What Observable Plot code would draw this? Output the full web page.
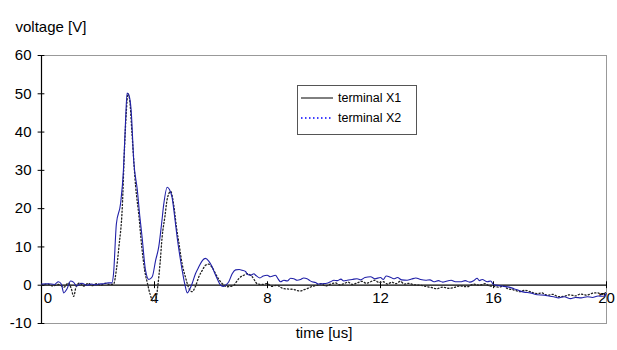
<!DOCTYPE html>
<html>
<head>
<meta charset="utf-8">
<script src="https://cdn.jsdelivr.net/npm/d3@7"></script>
<script src="https://cdn.jsdelivr.net/npm/@observablehq/plot@0.6"></script>
<style>
  html, body { margin: 0; padding: 0; background: #fff; }
  #wrap { position: relative; width: 617px; height: 350px; font-family: "Liberation Sans", Arial, sans-serif; }
  #legend { position: absolute; left: 297px; top: 85px; width: 120px; height: 50px; border: 1px solid #555; background: #fff; box-sizing: border-box; font-size: 12.5px; color: #000; }
  #legend .row { position: absolute; left: 3px; height: 14px; display: flex; align-items: center; }
  #legend svg { display: block; }
  #legend span { margin-left: 5px; }
</style>
</head>
<body>
<div id="wrap">
  <div id="chart"></div>
  <div id="legend"></div>
</div>
<script>
// ---- Data ----
const yTicks = [-10, 0, 10, 20, 30, 40, 50, 60];
const xTicks = [0, 4, 8, 12, 16, 20];
const legendLabels = ["terminal X1", "terminal X2"];

// solid blue trace
const blueTime = [0,0.25,0.45,0.6,0.7,0.79,0.9,1.03,1.13,1.25,1.35,1.43,1.6,1.78,1.9,2.02,2.2,2.37,2.49,2.55,2.65,2.8,2.9,2.97,3.03,3.1,3.17,3.27,3.39,3.48,3.56,3.68,3.8,3.92,4.04,4.15,4.25,4.33,4.45,4.53,4.62,4.72,4.8,4.9,4.98,5.08,5.16,5.25,5.33,5.45,5.57,5.7,5.8,5.92,6.04,6.13,6.22,6.34,6.45,6.55,6.63,6.75,6.87,7.0,7.1,7.22,7.3,7.4,7.52,7.58,7.73,7.85,7.99,8.1,8.28,8.38,8.46,8.58,8.7,8.82,8.93,9.05,9.17,9.28,9.4,9.5,9.58,9.7,9.8,9.94,10.1,10.23,10.35,10.47,10.6,10.7,10.82,11.0,11.17,11.3,11.45,11.65,11.8,12.0,12.1,12.2,12.35,12.47,12.6,12.75,12.94,13.1,13.25,13.42,13.6,13.75,13.89,14.05,14.2,14.36,14.5,14.65,14.83,15.0,15.15,15.3,15.42,15.5,15.6,15.78,15.9,16.01,16.2,16.37,16.55,16.72,16.9,17.08,17.3,17.55,17.8,18.0,18.13,18.3,18.5,18.73,18.9,19.1,19.32,19.5,19.7,19.9,20];
const blueVolt = [0.3,0.4,0.2,0.9,0.3,-2.0,-1.0,1.1,0.8,-0.2,0.3,0.5,0.0,0.3,0.1,0.3,0.4,0.6,0.6,3,16,21.4,30,42,50.2,49.5,46,32,25,18,12.6,4,1.5,2.2,6.5,10,16,21.3,25.6,25,23,17.5,12.6,7.5,3.9,0,-2.0,-1,0.4,3,4.8,6.5,7.0,6.3,4.8,3.2,1.7,0.0,-0.3,0.2,0.9,3.0,4.0,4.1,3.9,3.6,2.8,2.6,3.0,2.6,1.9,2.4,2.6,2.2,2.6,1.6,0.9,1.3,1.1,1.8,1.7,1.3,1.5,1.9,1.7,1.2,0.9,0.7,0.3,0.4,0.5,0.9,1.3,1.2,1.6,1.1,1.3,1.5,1.7,1.4,2.0,2.2,1.7,2.0,1.5,2.4,2.1,1.7,2.0,1.4,1.3,1.6,1.9,1.5,1.3,1.4,0.9,1.2,0.8,1.1,1.3,0.9,0.9,1.2,0.8,1.2,1.8,1.2,1.5,0.9,1.1,0.1,-0.1,-0.3,-0.5,-0.9,-1.4,-1.8,-2.0,-2.5,-2.6,-2.9,-3.0,-3.3,-3.0,-3.5,-3.2,-3.3,-3.0,-3.2,-2.8,-2.9,-2.2];

// dotted black trace
const blackTime = [0,0.2,0.4,0.6,0.8,0.95,1.05,1.14,1.22,1.35,1.5,1.65,1.8,1.95,2.1,2.25,2.4,2.55,2.65,2.74,2.86,2.94,3.0,3.06,3.12,3.2,3.33,3.45,3.55,3.65,3.75,3.85,3.95,4.05,4.12,4.2,4.27,4.37,4.45,4.57,4.68,4.78,4.86,4.98,5.1,5.2,5.33,5.45,5.57,5.7,5.8,5.92,6.05,6.22,6.4,6.57,6.7,6.81,6.9,6.98,7.1,7.16,7.28,7.4,7.46,7.55,7.63,7.8,7.99,8.15,8.34,8.45,8.58,8.75,8.93,9.05,9.17,9.28,9.4,9.55,9.76,9.9,10.05,10.23,10.4,10.55,10.7,10.85,11.0,11.17,11.35,11.5,11.65,11.8,11.95,12.1,12.25,12.4,12.55,12.7,12.85,13.0,13.2,13.42,13.6,13.8,14.0,14.2,14.4,14.6,14.8,15.07,15.3,15.5,15.7,15.85,16.0,16.2,16.35,16.5,16.7,16.96,17.1,17.3,17.55,17.7,17.9,18.1,18.3,18.5,18.7,18.9,19.08,19.3,19.5,19.67,19.85,20];
const blackVolt = [0,0.3,-0.2,0.2,-0.5,0.6,-0.8,-2.9,-0.5,0.6,-0.2,0.5,-0.1,0.4,0.0,0.5,0.2,0.3,4,10,20.4,36,45,50,48.5,40,26,18,10,4,0.5,-2.5,-4.2,-3.5,0,6,12.6,18,22.5,24.5,21,15,11.2,5.5,2.0,-0.5,-1.7,-0.3,2.2,4,5.2,5.5,4.5,2.2,0.4,-0.4,-0.3,0,0.9,1.7,2.4,2.6,3.0,2.6,2.2,1.2,0.4,0.2,0.4,-0.3,0.0,-0.5,-0.9,-1.0,-1.1,-1.4,-1.5,-1.2,-0.9,-0.4,0,0.4,-0.2,0.3,0.6,0.1,0.4,0.8,0.2,0.6,1.0,0.5,0.9,1.3,0.7,0.9,0.3,0.8,0.4,1.0,0.3,0.5,0.1,0,-0.3,-0.6,-0.9,-0.5,-0.8,-0.6,-0.2,-0.4,0.3,0,0.4,-0.2,-0.3,-0.5,-0.2,-0.9,-1.2,-1.7,-1.3,-1.7,-2.2,-2.0,-2.6,-2.4,-3.0,-2.9,-2.5,-2.8,-2.3,-2.6,-2.1,-2.0,-2.4,-1.7];

// ---- Build tables ----
const blue = blueTime.map((t, i) => ({t, v: blueVolt[i]}));
const black = blackTime.map((t, i) => ({t, v: blackVolt[i]}));
const blueColor = "#2020a8";

const font = "Liberation Sans, Arial, sans-serif";
const fs = 15;

const chart = Plot.plot({
  width: 617,
  height: 350,
  marginLeft: 41,
  marginRight: 11,
  marginTop: 55,
  marginBottom: 27,
  style: {fontFamily: font, fontSize: fs + "px", background: "#fff", color: "#000"},
  x: {domain: [0, 20], axis: null},
  y: {domain: [-10, 60], axis: null},
  marks: [
    Plot.frame({stroke: "#999", strokeWidth: 1}),
    // x axis at y = 0
    Plot.ruleY([0], {stroke: "#000", strokeWidth: 1.2}),
    Plot.ruleX(xTicks.filter(d => d > 0), {y1: -0.9, y2: 0.9, stroke: "#000", strokeWidth: 1}),
    Plot.text(xTicks.filter(d => d > 0), {x: d => d, y: 0, text: d => String(d), dy: 13, fontSize: fs, fill: "#000"}),
    Plot.text(xTicks.filter(d => d === 0), {x: d => d, y: 0, text: d => String(d), dy: 13, dx: 6.5, fontSize: fs, fill: "#000"}),
    // y axis
    Plot.ruleX([0], {stroke: "#000", strokeWidth: 1.2}),
    Plot.ruleY(yTicks, {x1: -0.12, x2: 0.12, stroke: "#000", strokeWidth: 1}),
    Plot.text(yTicks, {x: 0, y: d => d, text: d => String(d), textAnchor: "end", dx: -10, fontSize: fs, fill: "#000"}),
    // data
    Plot.line(black, {x: "t", y: "v", stroke: "#222", strokeWidth: 1.3, strokeDasharray: "1.2,2.2", curve: "monotone-x"}),
    Plot.line(blue, {x: "t", y: "v", stroke: blueColor, strokeWidth: 1.1, curve: "monotone-x"}),
    // axis titles
    Plot.text(["voltage [V]"], {frameAnchor: "top-left", dx: -26, dy: -34, textAnchor: "start", fontSize: fs, fill: "#000"}),
    Plot.text(["time [us]"], {frameAnchor: "bottom", dy: 14, fontSize: fs, fill: "#000"})
  ]
});
document.getElementById("chart").appendChild(chart);

// legend (HTML overlay)
const legend = document.getElementById("legend");
const styles = [
  {stroke: "#000", dash: null, width: 1},
  {stroke: "#0000ff", dash: "1.5,2.5", width: 1.6}
];
legendLabels.forEach((lab, i) => {
  const row = document.createElement("div");
  row.className = "row";
  row.style.top = (i === 0 ? 5 : 25) + "px";
  const s = styles[i];
  row.innerHTML = `<svg width="32" height="6"><line x1="0" y1="3" x2="32" y2="3" stroke="${s.stroke}" stroke-width="${s.width}" ${s.dash ? `stroke-dasharray="${s.dash}"` : ""}/></svg><span>${lab}</span>`;
  legend.appendChild(row);
});
</script>
</body>
</html>
